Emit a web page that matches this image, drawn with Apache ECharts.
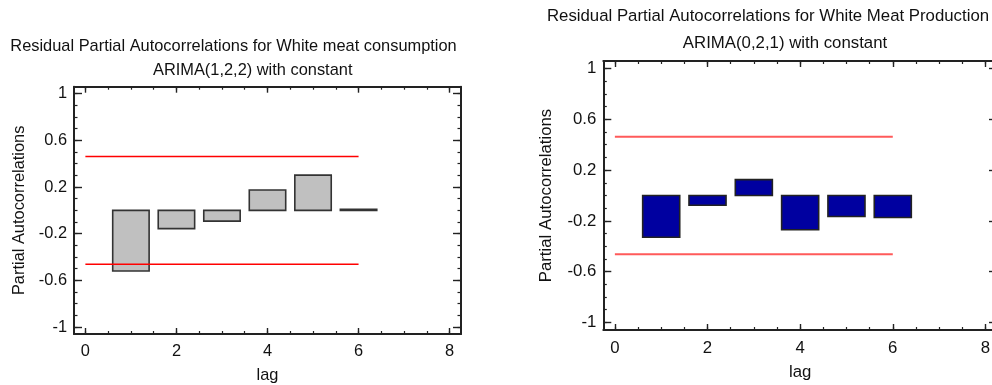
<!DOCTYPE html>
<html>
<head>
<meta charset="utf-8">
<script src="https://cdn.jsdelivr.net/npm/echarts@6/dist/echarts.min.js"></script>
<style>
  html, body { margin: 0; padding: 0; background: #fff; }
  #main { width: 992px; height: 385px; }
</style>
</head>
<body>
<div id="main"></div>
<script>
// lags 1..6, residual partial autocorrelations
var lags = [1, 2, 3, 4, 5, 6];
var consumptionPacf = [-0.52, -0.157, -0.092, 0.174, 0.302, 0.008];
var productionPacf = [-0.329, -0.077, 0.125, -0.27, -0.166, -0.173];

// 95% limits, drawn from lag 0 to lag 6
var limitLags = [0, 6];
var consumptionLimit = 0.462;
var productionLimit = 0.463;

// axis ticks / labels
var xLabels = [0, 2, 4, 6, 8];
var xMinor = [0, 0.5, 1, 1.5, 2, 2.5, 3, 3.5, 4, 4.5, 5, 5.5, 6, 6.5, 7, 7.5, 8];
var yLabels = [-1, -0.6, -0.2, 0.2, 0.6, 1];
var yMinor = [-1, -0.9, -0.8, -0.7, -0.6, -0.5, -0.4, -0.3, -0.2, -0.1, 0,
              0.1, 0.2, 0.3, 0.4, 0.5, 0.6, 0.7, 0.8, 0.9, 1];

var FONT = 'Liberation Sans, Arial, sans-serif';
var INK = '#111';
var FRAME = '#222';

var myChart = echarts.init(document.getElementById('main'));

function xAxes(grid, fs, nameGap, labelMargin) {
    var out = [];
    ['bottom', 'top'].forEach(function (pos) {
        var main = pos === 'bottom';
        // major ticks + frame line
        out.push({
            type: 'value', gridIndex: grid, position: pos, min: -0.25, max: 8.25,
            axisLine: { show: true, onZero: false, lineStyle: { color: FRAME, width: 2 } },
            axisTick: { show: true, inside: true, length: 6, customValues: xLabels, lineStyle: { color: FRAME, width: 1.4 } },
            axisLabel: main ? { show: true, customValues: xLabels, margin: labelMargin, color: INK, fontSize: fs, fontFamily: FONT }
                            : { show: false },
            splitLine: { show: false },
            name: main ? 'lag' : '', nameLocation: 'middle', nameGap: nameGap,
            nameTextStyle: { color: INK, fontSize: fs, fontFamily: FONT }
        });
        // minor ticks
        out.push({
            type: 'value', gridIndex: grid, position: pos, min: -0.25, max: 8.25,
            axisLine: { show: false, onZero: false },
            axisTick: { show: true, inside: true, length: 3, customValues: xMinor, lineStyle: { color: FRAME, width: 1.2 } },
            axisLabel: { show: false },
            splitLine: { show: false }
        });
    });
    return out;
}

function yAxes(grid, fs, nameGap) {
    var out = [];
    ['left', 'right'].forEach(function (pos) {
        var main = pos === 'left';
        out.push({
            type: 'value', gridIndex: grid, position: pos, min: -1.06, max: 1.06,
            axisLine: { show: true, onZero: false, lineStyle: { color: FRAME, width: 2 } },
            axisTick: { show: true, inside: true, length: 8, customValues: yLabels, lineStyle: { color: FRAME, width: 1.4 } },
            axisLabel: main ? { show: true, customValues: yLabels, margin: 7, color: INK, fontSize: fs, fontFamily: FONT }
                            : { show: false },
            splitLine: { show: false },
            name: main ? 'Partial Autocorrelations' : '', nameLocation: 'middle', nameGap: nameGap,
            nameTextStyle: { color: INK, fontSize: fs, fontFamily: FONT }
        });
        out.push({
            type: 'value', gridIndex: grid, position: pos, min: -1.06, max: 1.06,
            axisLine: { show: false, onZero: false },
            axisTick: { show: true, inside: true, length: 3.5, customValues: yMinor, lineStyle: { color: FRAME, width: 1.2 } },
            axisLabel: { show: false },
            splitLine: { show: false }
        });
    });
    return out;
}

function barSeries(xi, yi, values, fill, stroke) {
    return {
        type: 'custom',
        xAxisIndex: xi, yAxisIndex: yi,
        data: lags.map(function (l, i) { return [l, values[i]]; }),
        renderItem: function (params, api) {
            var lag = api.value(0), v = api.value(1);
            var a = api.coord([lag - 0.4, v]);
            var b = api.coord([lag + 0.4, 0]);
            return {
                type: 'rect',
                shape: { x: a[0], y: Math.min(a[1], b[1]), width: b[0] - a[0], height: Math.abs(b[1] - a[1]) },
                style: { fill: fill, stroke: stroke, lineWidth: 1.6 }
            };
        },
        z: 3
    };
}

function limitSeries(xi, yi, value, color, width) {
    return [value, -value].map(function (v) {
        return {
            type: 'line', xAxisIndex: xi, yAxisIndex: yi, symbol: 'none', silent: true,
            data: limitLags.map(function (l) { return [l, v]; }),
            lineStyle: { color: color, width: width }, z: 4
        };
    });
}

var titles = [
    { text: 'Residual Partial Autocorrelations for White meat consumption', x: 233.5, y: 46, fs: 16.4 },
    { text: 'ARIMA(1,2,2) with constant', x: 252.7, y: 70.7, fs: 16.4 },
    { text: 'Residual Partial Autocorrelations for White Meat Production', x: 768, y: 16.7, fs: 16.8 },
    { text: 'ARIMA(0,2,1) with constant', x: 785, y: 43.3, fs: 16.8 }
];

option = {
    backgroundColor: '#fff',
    animation: false,
    grid: [
        { left: 74, top: 86.7, width: 387, height: 247.3, outerBoundsMode: 'none', containLabel: false },
        { left: 603.3, top: 61, width: 393.7, height: 269, outerBoundsMode: 'none', containLabel: false }
    ],
    xAxis: xAxes(0, 16.4, 33, 9).concat(xAxes(1, 16.8, 34, 10)),
    yAxis: yAxes(0, 16.4, 47).concat(yAxes(1, 16.8, 48)),
    graphic: titles.map(function (t) {
        return {
            type: 'text', x: t.x, y: t.y,
            style: { text: t.text, fill: INK, font: t.fs + 'px ' + FONT, textAlign: 'center', textVerticalAlign: 'middle' }
        };
    }),
    series: [
        barSeries(0, 0, consumptionPacf, '#c0c0c0', '#333')
    ].concat(limitSeries(0, 0, consumptionLimit, '#ff0000', 1.5))
     .concat([barSeries(4, 4, productionPacf, '#0000a0', '#222')])
     .concat(limitSeries(4, 4, productionLimit, '#ff5a5a', 2))
};
myChart.setOption(option);
</script>
</body>
</html>
